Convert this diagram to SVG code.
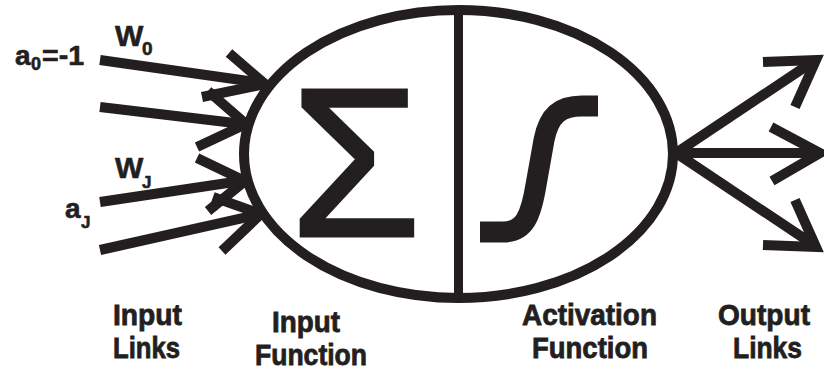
<svg xmlns="http://www.w3.org/2000/svg" width="824" height="370" viewBox="0 0 824 370">
<style>
.ln{fill:none;stroke:#231f20;stroke-width:10;stroke-linejoin:miter;stroke-miterlimit:10;stroke-linecap:butt}
.lbl{font-family:"Liberation Sans",Arial,sans-serif;font-weight:bold;font-size:30px;fill:#231f20;stroke:#231f20;stroke-width:0.8}
.sym{font-family:"Liberation Sans",Arial,sans-serif;font-weight:bold;fill:#231f20;stroke:#231f20;stroke-width:0.6}
</style>
<rect width="824" height="370" fill="#fff"/>
<g id="connectors">
  <g id="input-links">
    <line class="ln" x1="100" y1="60" x2="262" y2="83"/>
    <polyline class="ln" points="229,53 265,84 202,97"/>
    <line class="ln" x1="100" y1="107" x2="243" y2="124"/>
    <polyline class="ln" points="208,91 246,124 197,147"/>
    <line class="ln" x1="100" y1="202" x2="241" y2="181"/>
    <polyline class="ln" points="197,158 245,181 208,211"/>
    <line class="ln" x1="100" y1="250" x2="257" y2="215"/>
    <polyline class="ln" points="213,197 261,214 222,251"/>
  </g>
  <g id="output-links">
    <line class="ln" x1="676" y1="153" x2="814" y2="61"/>
    <polyline class="ln" points="763,62 816,60 795,107"/>
    <line class="ln" x1="676" y1="153" x2="818" y2="153"/>
    <polyline class="ln" points="771,127 820,153 772,181"/>
    <line class="ln" x1="676" y1="153" x2="814" y2="245"/>
    <polyline class="ln" points="763,245 816,247 795,200"/>
  </g>
</g>
<g id="neuron">
  <ellipse cx="458.5" cy="154" rx="214.5" ry="144" fill="#fff" stroke="#231f20" stroke-width="10"/>
  <line x1="458.5" y1="12" x2="458.5" y2="296" stroke="#231f20" stroke-width="9"/>
  <g id="input-function">
    <text x="290" y="236" font-family="Liberation Sans, Arial, sans-serif" font-size="212" fill="#231f20" stroke="#231f20" stroke-width="3">Σ</text>
  </g>
  <g id="activation-function">
    <path d="M480,232 L503,232 C525,232 531,215 536,185 L544,140 C549,115 560,106 582,106 L598,106" fill="none" stroke="#231f20" stroke-width="21"/>
  </g>
</g>
<g id="input-labels">
  <text class="sym" x="15" y="65" font-size="28">a</text>
  <text class="sym" x="31" y="70" font-size="18">0</text>
  <text class="sym" x="42" y="65" font-size="28" textLength="42" lengthAdjust="spacingAndGlyphs">=-1</text>
  <text class="sym" x="115" y="46" font-size="30">W</text>
  <text class="sym" x="142" y="55" font-size="19">0</text>
  <text class="sym" x="115" y="178" font-size="30">W</text>
  <text class="sym" x="142" y="188" font-size="17">J</text>
  <text class="sym" x="65" y="218" font-size="28">a</text>
  <text class="sym" x="81" y="228" font-size="17">J</text>
</g>
<g id="captions">
  <text class="lbl" x="113" y="325" textLength="69" lengthAdjust="spacingAndGlyphs">Input</text>
  <text class="lbl" x="113" y="358" textLength="67" lengthAdjust="spacingAndGlyphs">Links</text>
  <text class="lbl" x="272" y="332" textLength="68" lengthAdjust="spacingAndGlyphs">Input</text>
  <text class="lbl" x="255" y="365" textLength="112" lengthAdjust="spacingAndGlyphs">Function</text>
  <text class="lbl" x="522" y="325" textLength="135" lengthAdjust="spacingAndGlyphs">Activation</text>
  <text class="lbl" x="532" y="358" textLength="116" lengthAdjust="spacingAndGlyphs">Function</text>
  <text class="lbl" x="718" y="325" textLength="92" lengthAdjust="spacingAndGlyphs">Output</text>
  <text class="lbl" x="733" y="358" textLength="69" lengthAdjust="spacingAndGlyphs">Links</text>
</g>
</svg>
